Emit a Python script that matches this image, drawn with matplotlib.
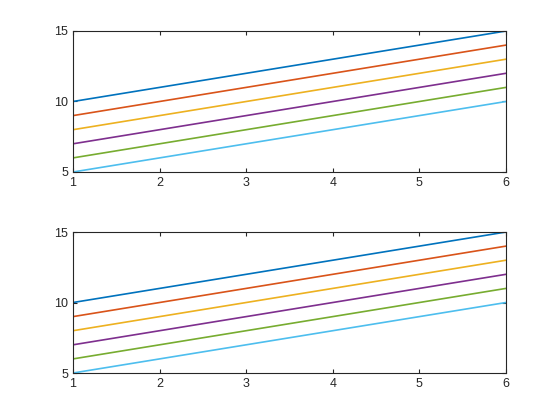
import matplotlib
matplotlib.use("Agg")
import matplotlib.pyplot as plt

plt.rcParams['font.family'] = ['Liberation Sans', 'DejaVu Sans']

x = [1, 2, 3, 4, 5, 6]
y1 = [10, 11, 12, 13, 14, 15]
y2 = [9, 10, 11, 12, 13, 14]
y3 = [8, 9, 10, 11, 12, 13]
y4 = [7, 8, 9, 10, 11, 12]
y5 = [6, 7, 8, 9, 10, 11]
y6 = [5, 6, 7, 8, 9, 10]
series = [y1, y2, y3, y4, y5, y6]

colors = ["#0072BD", "#D95319", "#EDB120", "#7E2F8E", "#77AC30", "#4DBEEE"]

fig = plt.figure(figsize=(5.6, 4.2), dpi=100)
positions = [[0.1304, 0.5905, 0.7732, 0.3357],
             [0.1304, 0.1119, 0.7732, 0.3357]]

for pos in positions:
    ax = fig.add_axes(pos)
    for ys, c in zip(series, colors):
        ax.plot(x, ys, color=c, linewidth=1.2)
    ax.set_xlim(1, 6)
    ax.set_ylim(5, 15)
    ax.set_xticks([1, 2, 3, 4, 5, 6])
    ax.set_yticks([5, 10, 15])
    ax.tick_params(direction='in', length=3, width=0.8, labelsize=9,
                   top=True, right=True, colors='#262626')
    for s in ax.spines.values():
        s.set_color('#262626')
        s.set_linewidth(0.8)

fig.savefig("out.png", dpi=100)
